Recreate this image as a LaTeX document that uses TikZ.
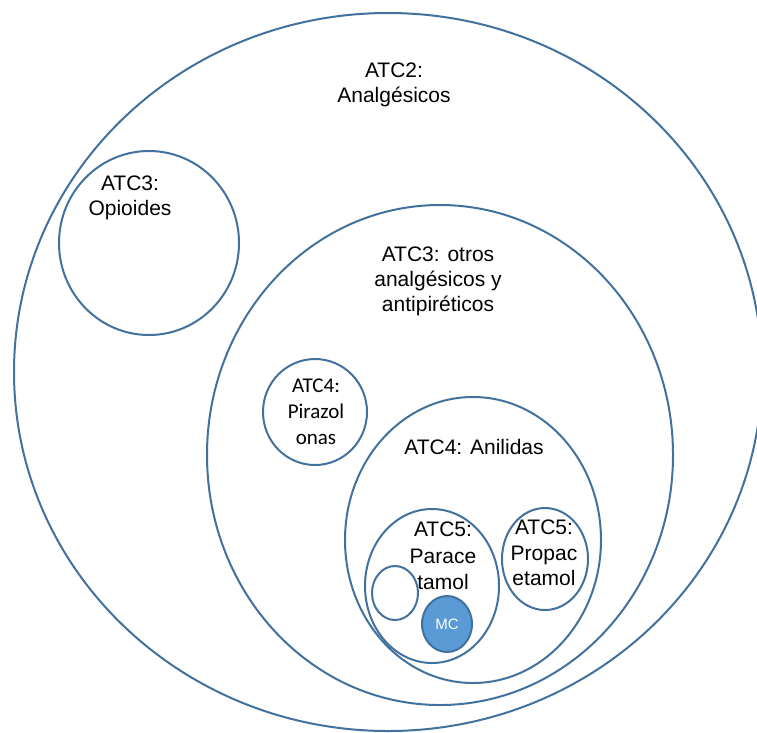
\documentclass[tikz,border=0pt]{standalone}
\usepackage{fontspec}
\setmainfont{Liberation Sans}
\newfontfamily\calibrifont{Carlito}
\definecolor{ringblue}{RGB}{65,113,156}
\definecolor{mcblue}{RGB}{91,155,213}
\begin{document}
\begin{tikzpicture}[x=1pt,y=-1pt,line join=round,line cap=round,
    ring/.style={draw=ringblue,line width=2pt},
    lbl/.style={align=center,inner sep=0pt,font=\fontsize{21}{25}\selectfont}]
    \useasboundingbox (0,0) rectangle (757,732);
    % rings, outer to inner
    \coordinate (A2) at (388,372);
    \draw[ring] (A2) ellipse (374 and 359);
    \coordinate (Opio) at (149,243);
    \draw[ring] (Opio) ellipse (90 and 92);
    \coordinate (Otros) at (440,455);
    \draw[ring] (Otros) ellipse (233 and 250);
    \coordinate (Pira) at (315,412);
    \draw[ring] (Pira) ellipse (52 and 53);
    \coordinate (Anil) at (473,540);
    \draw[ring] (Anil) ellipse (128 and 143);
    \coordinate (Para) at (432,586);
    \draw[ring] (Para) ellipse (67 and 77);
    \coordinate (Propa) at (545,559);
    \draw[ring] (Propa) ellipse (43 and 51);
    \coordinate (Empty) at (395,593);
    \draw[ring] (Empty) ellipse (23 and 27);
    \coordinate (MCc) at (447,624);
    \draw[ring,fill=mcblue] (MCc) ellipse (25 and 28);
    % labels
    \node[lbl] (atc2) at (394,85) {ATC2:\\Analgésicos};
    \node[lbl] (opioides) at (130,198) {ATC3:\\Opioides};
    \node[lbl] (otros) at (438,281) {ATC3: otros\\analgésicos y\\antipiréticos};
    \node[lbl,font=\calibrifont\fontsize{21}{26}\selectfont] (pirazol) at (316,412) {ATC4:\\Pirazol\\onas};
    \node[lbl] (anilidas) at (474,447) {ATC4: Anilidas};
    \node[lbl,font=\fontsize{21}{26.5}\selectfont] (parace) at (443,556) {ATC5:\\Parace\\tamol};
    \node[lbl,font=\fontsize{21}{25.5}\selectfont] (propac) at (544,553) {ATC5:\\Propac\\etamol};
    \node[inner sep=0pt,text=white,font=\fontsize{15}{17}\selectfont] (mc) at (MCc) {MC};
\end{tikzpicture}
\end{document}
